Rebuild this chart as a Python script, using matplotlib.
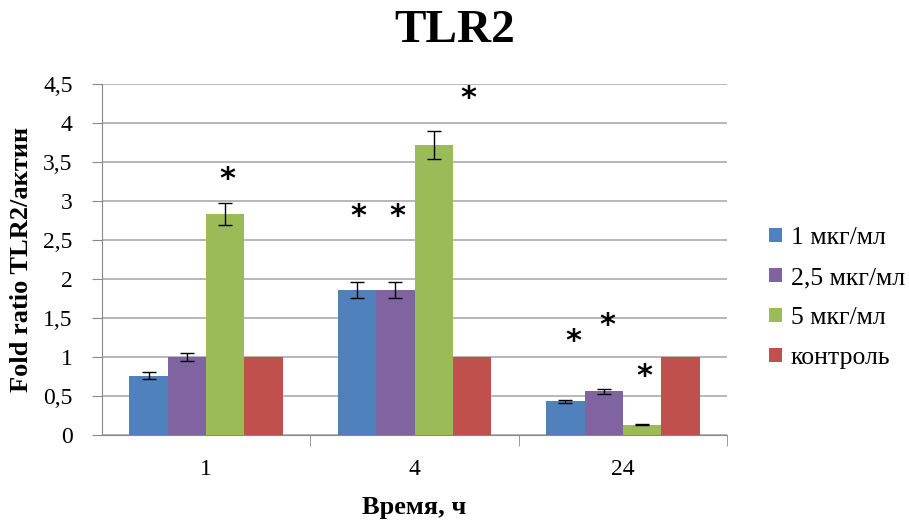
import numpy as np
import matplotlib
matplotlib.use('Agg')
import matplotlib.pyplot as plt

plt.rcParams['font.family'] = ['Liberation Serif', 'DejaVu Serif']

# данные
categories = ['1', '4', '24']
series_names = ['1 мкг/мл', '2,5 мкг/мл', '5 мкг/мл', 'контроль']
vals_1 = [0.76, 1.86, 0.43]
vals_25 = [1.00, 1.86, 0.56]
vals_5 = [2.83, 3.72, 0.13]
vals_ctrl = [1.00, 1.00, 1.00]
err_1 = [0.045, 0.10, 0.02]
err_25 = [0.05, 0.10, 0.035]
err_5 = [0.14, 0.18, 0.005]
# звездочки (позиция по x в категориях, высота)
star_x = [0.10, 0.73, 0.92, 1.26, 1.76, 1.925, 2.105]
star_y = [3.31, 2.84, 2.84, 4.35, 1.24, 1.44, 0.79]

colors = ['#4F81BD', '#8064A2', '#9BBB59', '#C0504D']

fig = plt.figure(figsize=(9.09, 5.22), dpi=100, facecolor='white')
ax = fig.add_axes([0.112, 0.1667, 0.688, 0.6723])

x = np.arange(len(categories))
w = 0.184
vals = [vals_1, vals_25, vals_5, vals_ctrl]
errs = [err_1, err_25, err_5, None]
for i in range(4):
    ax.bar(x + (i - 1.5) * w, vals[i], w, color=colors[i], label=series_names[i],
           zorder=3, edgecolor='none')
    if errs[i] is not None:
        ax.errorbar(x + (i - 1.5) * w, vals[i], yerr=errs[i], fmt='none',
                    ecolor='black', elinewidth=1, capsize=5, capthick=1, zorder=4)

for sx, sy in zip(star_x, star_y):
    ax.text(sx, sy, '*', ha='center', va='center_baseline', fontsize=22,
            family='DejaVu Sans', fontweight='bold', zorder=5)

ax.set_xlim(-0.5, 2.5)
ax.set_ylim(0, 4.5)
ax.set_yticks(np.arange(0, 4.51, 0.5))
ax.set_yticklabels(['0', '0,5', '1', '1,5', '2', '2,5', '3', '3,5', '4', '4,5'])
ax.set_xticks(x)
ax.set_xticklabels(categories)
ax.set_xticks([0.5, 1.5, 2.5], minor=True)
ax.tick_params(axis='x', which='major', length=0, labelsize=17, pad=17)
ax.tick_params(axis='x', which='minor', length=8, color='#888888')
ax.tick_params(axis='y', length=7, color='#888888', labelsize=17, pad=14)

ax.grid(axis='y', color='#aaaaaa', linewidth=1.2, zorder=0)
for s in ['top', 'right']:
    ax.spines[s].set_visible(False)
for s in ['left', 'bottom']:
    ax.spines[s].set_color('#888888')

ax.set_ylabel('Fold ratio TLR2/актин', fontsize=19, fontweight='bold')
ax.yaxis.set_label_coords(-0.11, 0.5)
ax.set_xlabel('Время, ч', fontsize=19, fontweight='bold')
ax.xaxis.set_label_coords(0.5, -0.175)
fig.suptitle('TLR2', fontsize=34, fontweight='bold', x=0.5, y=0.98)

ax.legend(loc='center left', bbox_to_anchor=(1.03, 0.39), frameon=False,
          fontsize=18.5, handlelength=0.5, handleheight=0.5, handletextpad=0.35,
          labelspacing=0.7)

plt.savefig('out.png', dpi=100)
